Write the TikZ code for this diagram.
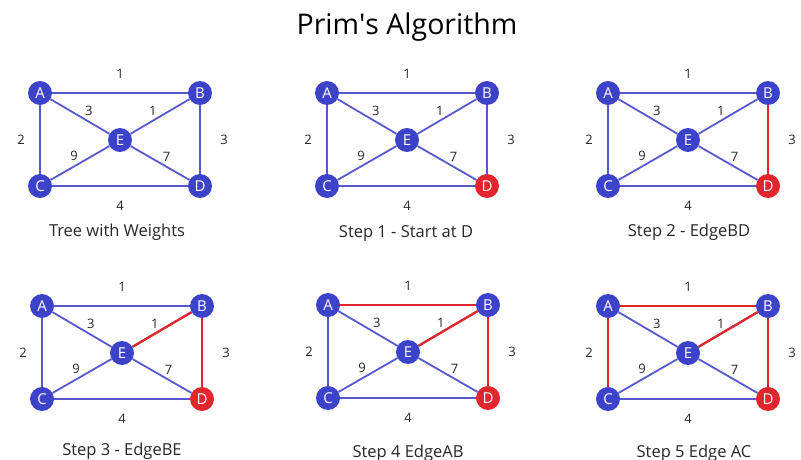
\documentclass[tikz,border=0pt]{standalone}
\usepackage{fontspec}
\setmainfont{Open Sans}
\usetikzlibrary{backgrounds}
\definecolor{vert}{HTML}{3D43C9}
\definecolor{edge}{HTML}{5559CB}
\definecolor{pick}{HTML}{E1262D}
\definecolor{ink}{HTML}{262626}

\begin{document}
\begin{tikzpicture}[x=1pt,y=-1pt,
  vtx/.style={circle,fill=#1,text=white,minimum size=24pt,inner sep=0pt,font=\fontsize{15}{15}\selectfont},
  wt/.style={text=ink,inner sep=0pt,font=\fontsize{13}{13}\selectfont},
  link/.style={draw=edge,line width=1.8pt},
  mst/.style={draw=pick,line width=2.3pt},
  caption/.style={text=ink,anchor=base,inner sep=0pt,font=\fontsize{16.5}{18}\selectfont}
]
\useasboundingbox (0,0) rectangle (801,460);
\node[text=black,anchor=base,font=\fontsize{28.5}{30}\selectfont] (title) at (407,35) {Prim\textquotesingle s Algorithm};

% one panel per step: number/centre of E/colour of D/caption position/caption
\foreach \p/\ex/\ey/\dc/\cx/\cy/\steptext in {
  1/120/140/vert/117/236/Tree with Weights,
  2/407/140/pick/406/237/Step 1 - Start at D,
  3/688/140/pick/689/236/Step 2 - EdgeBD,
  4/122/353/pick/122/455/Step 3 - EdgeBE,
  5/408/352/pick/408/457/Step 4 EdgeAB,
  6/688/353/pick/694/457/Step 5 Edge AC}{
  \begin{scope}[shift={(\ex,\ey)}]
    \node[vtx=vert] (E\p) at (0,0) {E};
    \node[vtx=vert] (A\p) at (-80,-47) {A};
    \node[vtx=vert] (B\p) at (80,-47) {B};
    \node[vtx=vert] (C\p) at (-80,46) {C};
    \node[vtx=\dc] (D\p) at (80,46) {D};
  \end{scope}
  \begin{scope}[on background layer]
    \draw[link] (A\p) -- node[wt,yshift=19pt] {1} (B\p);
    \draw[link] (A\p) -- node[wt,xshift=-19pt] {2} (C\p);
    \draw[link] (B\p) -- node[wt,xshift=24pt] {3} (D\p);
    \draw[link] (C\p) -- node[wt,yshift=-20pt] {4} (D\p);
    \draw[link] (A\p) -- node[wt,pos=0.65,yshift=11pt] {3} (E\p);
    \draw[link] (B\p) -- node[wt,pos=0.62,yshift=10pt] {1} (E\p);
    \draw[link] (C\p) -- node[wt,pos=0.4,yshift=11pt] {9} (E\p);
    \draw[link] (D\p) -- node[wt,pos=0.39,yshift=10pt] {7} (E\p);
  \end{scope}
  \node[caption] (cap\p) at (\cx,\cy) {\steptext};
}

% edges picked so far
\begin{scope}[on background layer]
  \draw[mst] (B3) -- (D3);
  \draw[mst] (B4) -- (D4);
  \draw[mst] (B4) -- (E4);
  \draw[mst] (B5) -- (D5);
  \draw[mst] (B5) -- (E5);
  \draw[mst] (A5) -- (B5);
  \draw[mst] (B6) -- (D6);
  \draw[mst] (B6) -- (E6);
  \draw[mst] (A6) -- (B6);
  \draw[mst] (A6) -- (C6);
\end{scope}
\end{tikzpicture}
\end{document}
